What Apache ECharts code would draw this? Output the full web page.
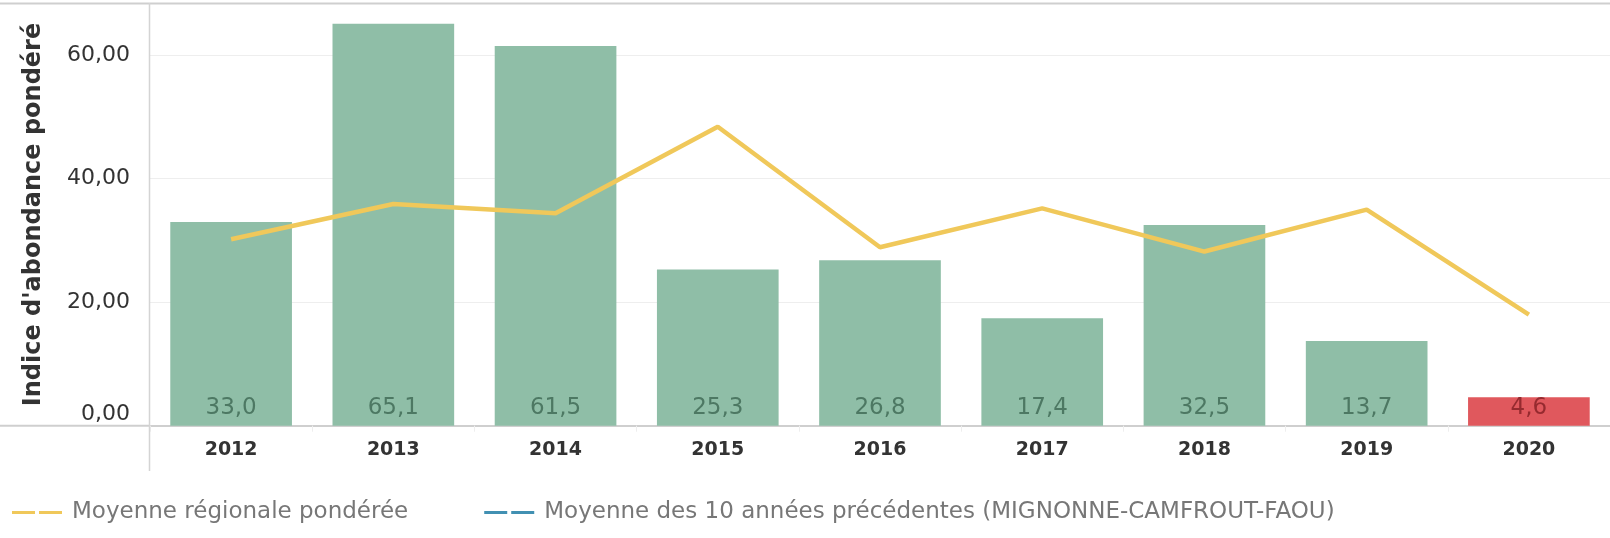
<!DOCTYPE html>
<html>
<head>
<meta charset="utf-8">
<script src="https://cdn.jsdelivr.net/npm/echarts@6/dist/echarts.min.js"></script>
<style>
html,body{margin:0;padding:0;background:#fff;}
#chart{width:1610px;height:538px;}
</style>
</head>
<body>
<div id="chart"></div>
<script>
var categories = ['2012','2013','2014','2015','2016','2017','2018','2019','2020'];
var abundance = [33.0, 65.1, 61.5, 25.3, 26.8, 17.4, 32.5, 13.7, 4.6];
var regionalMean = [30.2, 35.9, 34.4, 48.4, 28.9, 35.2, 28.2, 35.0, 18.0];
var tenYearMean = [null, null, null, null, null, null, null, null, null];
var yTicks = [0, 20, 40, 60];
var lowYear = '2020';

var FONT = 'DejaVu Sans';
var chart = echarts.init(document.getElementById('chart'), null, {renderer: 'canvas'});

var barData = abundance.map(function (v, i) {
  var low = categories[i] === lowYear;
  return {
    value: v,
    itemStyle: {color: low ? '#e0585d' : '#8fbea7'},
    label: {color: low ? '#962a2f' : '#4d7863'}
  };
});

var option = {
  backgroundColor: '#fff',
  animation: false,
  grid: {left: 150, right: 0, top: 3.3, bottom: 112.3, containLabel: false},
  legend: {
    left: 12,
    top: 501,
    padding: 0,
    itemWidth: 50,
    itemHeight: 3,
    itemGap: 76,
    textStyle: {fontFamily: FONT, fontSize: 23, color: '#777', padding: [0, 0, 0, 5]},
    data: [
      {name: 'Moyenne régionale pondérée', icon: 'path://M0,0H23V3H0Z M27,0H50V3H27Z', itemStyle: {color: '#f0c85a'}},
      {name: 'Moyenne des 10 années précédentes (MIGNONNE-CAMFROUT-FAOU)', icon: 'path://M0,0H23V3H0Z M27,0H50V3H27Z', itemStyle: {color: '#4190b2'}}
    ]
  },
  xAxis: {
    type: 'category',
    data: categories,
    boundaryGap: true,
    axisLine: {show: true, lineStyle: {color: '#cfcfcf', width: 2}},
    axisTick: {show: true, length: 6, lineStyle: {color: '#eeeeee'}},
    axisLabel: {fontFamily: FONT, fontSize: 19, fontWeight: 'bold', color: '#333', margin: 15}
  },
  yAxis: {
    type: 'value',
    min: 0,
    max: 68.4,
    interval: 20,
    name: "Indice d'abondance pondéré",
    nameLocation: 'middle',
    nameRotate: 90,
    nameGap: 104,
    nameTextStyle: {fontFamily: FONT, fontSize: 24, fontWeight: 'bold', color: '#333'},
    axisLine: {show: false},
    axisTick: {show: false},
    splitLine: {show: true, lineStyle: {color: ['#eeeeee','#eeeeee','#eeeeee','#eeeeee','#cfcfcf'], width: 1}},
    axisLabel: {
      fontFamily: FONT, fontSize: 22, color: '#333', margin: 20,
      showMaxLabel: false,
      verticalAlignMinLabel: 'bottom',
      formatter: function (v) {
        return yTicks.indexOf(v) >= 0 ? v.toFixed(2).replace('.', ',') : '';
      }
    }
  },
  series: [
    {
      name: 'Indice',
      type: 'bar',
      data: barData,
      barWidth: '75%',
      z: 2,
      label: {
        show: true,
        position: 'insideBottom',
        distance: 6,
        fontFamily: FONT,
        fontSize: 23,
        formatter: function (p) { return p.value.toFixed(1).replace('.', ','); }
      }
    },
    {
      name: 'Moyenne régionale pondérée',
      type: 'line',
      data: regionalMean,
      symbol: 'none',
      z: 3,
      lineStyle: {color: '#f0c85a', width: 4.5},
      itemStyle: {color: '#f0c85a'}
    },
    {
      name: 'Moyenne des 10 années précédentes (MIGNONNE-CAMFROUT-FAOU)',
      type: 'line',
      data: tenYearMean,
      symbol: 'none',
      lineStyle: {color: '#4190b2', width: 4},
      itemStyle: {color: '#4190b2'}
    }
  ],
  graphic: [
    {type: 'line', shape: {x1: 0, y1: 3.5, x2: 1610, y2: 3.5}, style: {stroke: '#cfcfcf', lineWidth: 2}, z: 10},
    {type: 'line', shape: {x1: 0, y1: 425.7, x2: 150, y2: 425.7}, style: {stroke: '#cfcfcf', lineWidth: 2}, z: 10},
    {type: 'line', shape: {x1: 149.5, y1: 3, x2: 149.5, y2: 471}, style: {stroke: '#d4d4d4', lineWidth: 1.5}, z: 10}
  ]
};
chart.setOption(option);
</script>
</body>
</html>
